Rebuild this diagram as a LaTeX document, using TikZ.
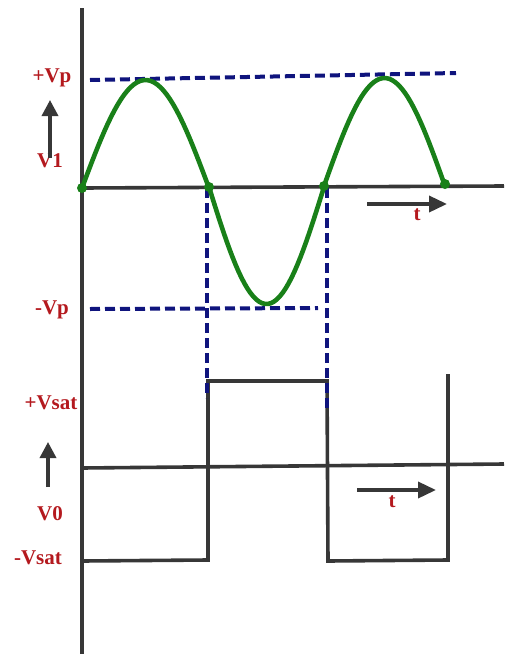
\documentclass[tikz,border=0pt]{standalone}
\usepackage{fontspec}
\setmainfont{Liberation Serif}
\usepackage{tikz}
\usetikzlibrary{arrows.meta}

\definecolor{lblred}{RGB}{180,25,30}
\definecolor{wavegreen}{RGB}{25,128,25}
\definecolor{refblue}{RGB}{15,20,125}
\definecolor{axisgray}{RGB}{55,55,55}

\begin{document}
\begin{tikzpicture}[x=1pt,y=-1pt,
  axis/.style={axisgray,line width=3.6pt},
  wave/.style={wavegreen,line width=4.6pt,line join=round},
  refline/.style={refblue,line width=4pt,dash pattern=on 10pt off 5pt},
  lbl/.style={lblred,font=\fontsize{21}{22}\selectfont\bfseries,inner sep=0pt},
  dirarrow/.style={axisgray,line width=3.6pt,-{Triangle[width=16pt,length=18pt]}}]
\useasboundingbox (0,0) rectangle (504,654);

% Axes
\draw[axis] (82,8) -- (82,654);
\draw[axis] (82,188) -- (504,186);
\draw[axis] (82,468) -- (504,464);

% Output square wave
\draw[axis,line join=miter]
  (82,561) -- (208,560) -- (208,381) -- (327,381) -- (328,561)
  -- (448,560) -- (448,374);

% Peak levels and switching instants
\draw[refline] (90,80) -- (456,73);
\draw[refline] (90,309) -- (318,308);
\draw[refline] (207,188) -- (207,398);
\draw[refline] (327,188) -- (327,412);

% Input sine wave
\draw[wave]
  plot[domain=0:180,samples=40] ({82+0.70556*\x},{188-108*sin(\x)})
  -- plot[domain=0:180,samples=40] ({209+0.63889*\x},{187+117*sin(\x)})
  -- plot[domain=0:180,samples=40] ({324+0.67222*\x},{186-108*sin(\x)});
\foreach \px/\py in {82/188,209/187,324/186,445/184}
  \fill[wavegreen] (\px,\py) circle (5pt);

% Labels
\node[lbl] (vp) at (52,78) {+Vp};
\node[lbl] (vone) at (50,161) {V1};
\node[lbl] (vn) at (52,310) {-Vp};
\node[lbl] (vsatp) at (51,403) {+Vsat};
\node[lbl] (vzero) at (50,514) {V0};
\node[lbl] (vsatn) at (38,558) {-Vsat};
\coordinate (vonetop) at (50,100);
\coordinate (vzerotop) at (48,442);
\draw[axisgray,line width=3.4pt,-{Triangle[width=16pt,length=16pt]}]
  ([yshift=-4pt]vone.north) -- (vonetop);
\draw[axisgray,line width=3.4pt,-{Triangle[width=16pt,length=16pt]}]
  (48,487) -- (vzerotop);

% Time arrows
\coordinate (tonea) at (367,204);
\coordinate (toneb) at (447,204);
\coordinate (ttwoa) at (357,490);
\coordinate (ttwob) at (436,490);
\draw[dirarrow] (tonea) -- (toneb);
\draw[dirarrow] (ttwoa) -- (ttwob);
\node[lbl] (tone) at (417,215) {t};
\node[lbl] (ttwo) at (392,502) {t};
\end{tikzpicture}
\end{document}
